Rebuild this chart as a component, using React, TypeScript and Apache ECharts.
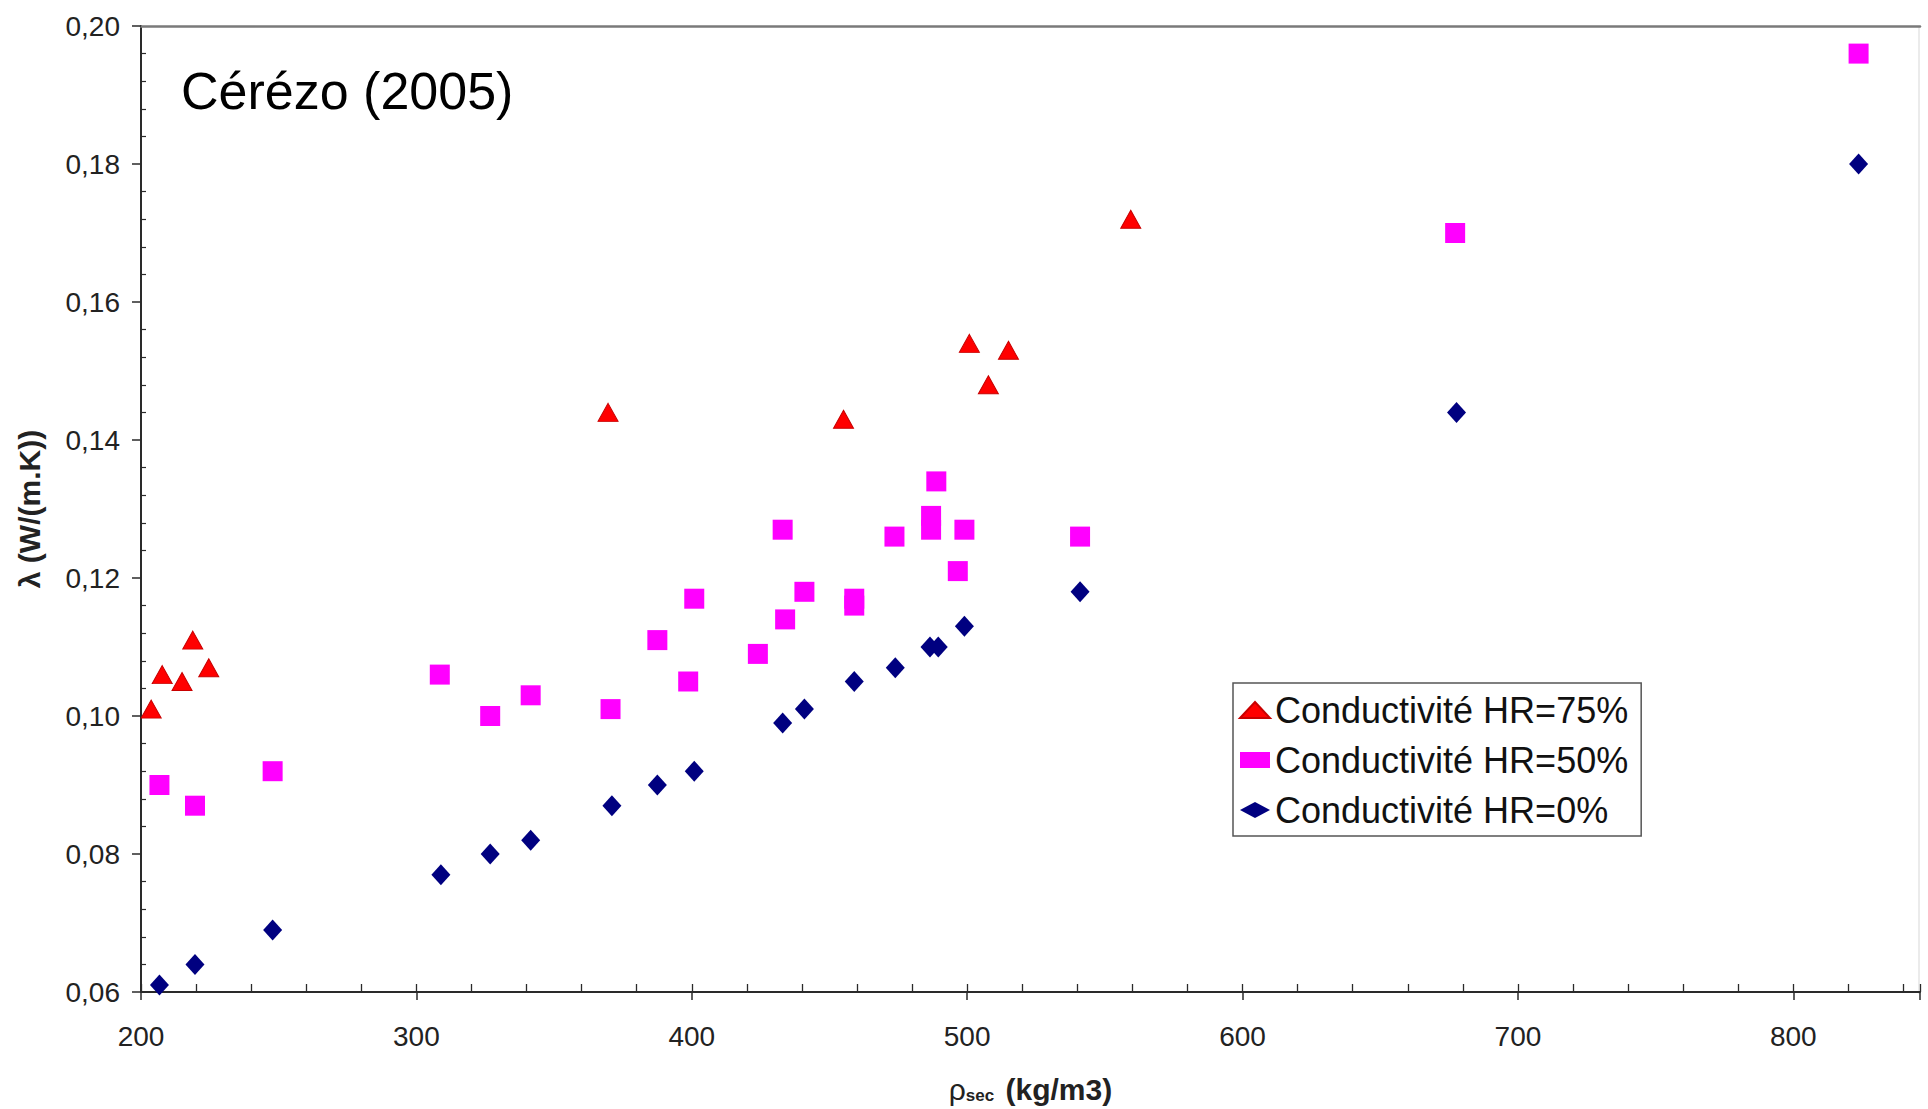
import React, { useEffect, useRef } from "react";
import * as echarts from "echarts";

// Conductivité HR=75% (triangles)
const hr75X = [203.7, 207.7, 214.9, 218.8, 224.6, 369.6, 455.1, 500.8, 507.7, 515.0, 559.4];
const hr75Y = [0.101, 0.106, 0.105, 0.111, 0.107, 0.144, 0.143, 0.154, 0.148, 0.153, 0.172];

// Conductivité HR=50% (squares)
const hr50X = [206.7, 219.6, 247.8, 308.5, 326.8, 341.5, 370.5, 387.5, 398.7, 400.9, 424.0, 433.0, 433.9, 440.9, 459.0, 459.0, 473.6, 486.9, 486.9, 488.8, 496.6, 499.0, 541.0, 677.2, 823.7];
const hr50Y = [0.090, 0.087, 0.092, 0.106, 0.100, 0.103, 0.101, 0.111, 0.105, 0.117, 0.109, 0.127, 0.114, 0.118, 0.117, 0.116, 0.126, 0.129, 0.127, 0.134, 0.121, 0.127, 0.126, 0.170, 0.196];

// Conductivité HR=0% (diamonds)
const hr0X = [206.7, 219.6, 247.8, 308.9, 326.8, 341.5, 371.0, 387.5, 400.9, 433.0, 440.9, 459.0, 473.9, 486.5, 489.5, 499.0, 541.0, 677.7, 823.7];
const hr0Y = [0.061, 0.064, 0.069, 0.077, 0.080, 0.082, 0.087, 0.090, 0.092, 0.099, 0.101, 0.105, 0.107, 0.110, 0.110, 0.113, 0.118, 0.144, 0.180];

const seriesNames = ["Conductivité HR=75%", "Conductivité HR=50%", "Conductivité HR=0%"];
const xTicks = [200, 300, 400, 500, 600, 700, 800];
const yTicks = [0.06, 0.08, 0.1, 0.12, 0.14, 0.16, 0.18, 0.2];

const FONT = "'Liberation Sans', Arial, sans-serif";

const zip = (xs: number[], ys: number[]) => xs.map((x, i) => [x, ys[i]]);

export default function App() {
  const ref = useRef<HTMLDivElement>(null);
  useEffect(() => {
    if (!ref.current) return;
    const chart = echarts.init(ref.current, undefined, { renderer: "svg" });
    const xMin = xTicks[0];
    const xMax = 846;
    const yMin = yTicks[0];
    const yMax = yTicks[yTicks.length - 1];
    chart.setOption({
      animation: false,
      backgroundColor: "#ffffff",
      grid: { left: 141, top: 26, right: 8, bottom: 114, containLabel: false },
      xAxis: [
        {
          type: "value",
          min: xMin,
          max: xMax,
          interval: 100,
          position: "bottom",
          axisLine: { onZero: false, lineStyle: { color: "#2a2a2a", width: 2 } },
          axisTick: {
            show: true,
            inside: false,
            length: 8,
            lineStyle: { color: "#2a2a2a", width: 1.5 },
            interval: (_i: number, v: any) => xTicks.includes(Number(v)),
          },
          axisLabel: {
            margin: 30,
            fontSize: 28,
            fontFamily: FONT,
            color: "#222",
            formatter: (v: number) => (xTicks.includes(v) ? String(v) : ""),
          },
          splitLine: { show: false },
          name: "{rho|ρ}{sub|sec} (kg/m3)",
          nameLocation: "middle",
          nameGap: 82,
          nameTextStyle: {
            fontFamily: FONT,
            fontSize: 30,
            fontWeight: "bold",
            color: "#222",
            rich: {
              rho: { fontFamily: FONT, fontSize: 30, fontWeight: "normal", color: "#222" },
              sub: { fontFamily: FONT, fontSize: 17, fontWeight: "bold", color: "#222", verticalAlign: "bottom", padding: [0, 3, 0, 0] },
            },
          },
        },
        {
          type: "value",
          min: xMin,
          max: xMax,
          interval: 20,
          position: "bottom",
          axisLine: { show: false, onZero: false },
          axisTick: { show: true, inside: true, length: 8, lineStyle: { color: "#2a2a2a", width: 1.3 } },
          axisLabel: { show: false },
          splitLine: { show: false },
        },
        {
          type: "value",
          min: xMin,
          max: xMax,
          position: "top",
          axisLine: { show: true, onZero: false, lineStyle: { color: "#7a7a7a", width: 2.5 } },
          axisTick: { show: false },
          axisLabel: { show: false },
          splitLine: { show: false },
        },
      ],
      yAxis: {
        type: "value",
        min: yMin,
        max: yMax,
        interval: 0.02,
        axisLine: { show: true, onZero: false, lineStyle: { color: "#2a2a2a", width: 2 } },
        axisTick: { show: true, inside: false, length: 9, lineStyle: { color: "#2a2a2a", width: 1.5 } },
        minorTick: { show: true, splitNumber: 5, length: -5, lineStyle: { color: "#2a2a2a", width: 1.2 } },
        axisLabel: {
          margin: 21,
          fontSize: 28,
          fontFamily: FONT,
          color: "#222",
          formatter: (v: number) => v.toFixed(2).replace(".", ","),
        },
        splitLine: { show: false },
        name: "λ (W/(m.K))",
        nameLocation: "middle",
        nameRotate: 90,
        nameGap: 97,
        nameTextStyle: { fontFamily: FONT, fontSize: 30, fontWeight: "bold", color: "#222" },
      },
      legend: {
        show: true,
        orient: "vertical",
        left: 1233,
        top: 683,
        padding: [9, 13, 8, 6],
        itemGap: 14,
        itemWidth: 30,
        itemHeight: 16,
        borderColor: "#555",
        borderWidth: 1.5,
        backgroundColor: "#ffffff",
        textStyle: { fontFamily: FONT, fontSize: 36, color: "#111" },
        data: [
          { name: seriesNames[0], icon: "triangle" },
          { name: seriesNames[1], icon: "rect" },
          { name: seriesNames[2], icon: "diamond" },
        ],
      },
      graphic: [
        {
          type: "text",
          x: 181,
          y: 91,
          style: {
            text: "Cérézo (2005)",
            fontFamily: FONT,
            fontSize: 52,
            fill: "#000",
            align: "left",
            verticalAlign: "middle",
          },
        },
        {
          type: "line",
          shape: { x1: 1919, y1: 27, x2: 1919, y2: 994 },
          style: { stroke: "#e4e4e4", lineWidth: 1.5 },
        },
      ],
      series: [
        {
          type: "scatter",
          name: seriesNames[0],
          symbol: "triangle",
          symbolSize: [20, 18],
          itemStyle: { color: "#ff0000", borderColor: "#c80000", borderWidth: 1, opacity: 1 },
          data: zip(hr75X, hr75Y),
        },
        {
          type: "scatter",
          name: seriesNames[1],
          symbol: "rect",
          symbolSize: 20,
          itemStyle: { color: "#ff00ff", opacity: 1 },
          data: zip(hr50X, hr50Y),
        },
        {
          type: "scatter",
          name: seriesNames[2],
          symbol: "diamond",
          symbolSize: [19, 21],
          itemStyle: { color: "#000080", opacity: 1 },
          data: zip(hr0X, hr0Y),
        },
      ],
    });
    return () => chart.dispose();
  }, []);
  return (
    <div
      ref={ref}
      style={{ position: "fixed", left: 0, top: 0, width: 1928, height: 1109, background: "#fff" }}
    />
  );
}
